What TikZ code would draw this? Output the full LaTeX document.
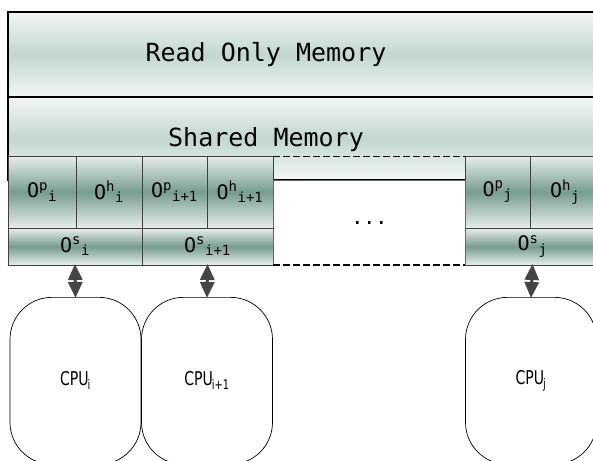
\documentclass[tikz,border=0pt]{standalone}
\usepackage{fontspec}
\setmonofont{DejaVu Sans Mono}
\newfontfamily\cpufont[FakeStretch=0.74]{DejaVu Sans}
\usetikzlibrary{arrows.meta}

\definecolor{bandlight}{HTML}{F2F6F4}
\definecolor{bandmid}{HTML}{C2D7D0}
\definecolor{celllight}{HTML}{E6EEEB}
\definecolor{celldark}{HTML}{789C91}
\definecolor{arrowgray}{HTML}{454545}

\tikzset{
    band/.style={draw=black, line width=1.2pt, anchor=north west, inner sep=0pt, outer sep=0pt,
        top color=bandlight, bottom color=bandlight, middle color=bandmid},
    bandtext/.style={inner sep=0pt, font=\ttfamily\fontsize{25}{25}\selectfont},
    cell/.style={draw=black!75, line width=0.9pt, anchor=north west, inner sep=0pt, outer sep=0pt,
        top color=celllight, bottom color=celllight, middle color=celldark,
        minimum height=72pt, font=\ttfamily\fontsize{20}{20}\selectfont},
    lowcell/.style={cell, minimum height=37pt},
    cpu/.style={draw, line width=0.7pt, rounded corners=42pt, anchor=north,
        minimum width=131pt, minimum height=167pt, inner sep=0pt,
        font=\cpufont\fontsize{19}{19}\selectfont},
    busarrow/.style={arrowgray, line width=3pt,
        {Triangle[width=14pt,length=16pt]}-{Triangle[width=14pt,length=16pt]}, shorten <=-1pt, shorten >=-1pt}
}

\begin{document}
\begin{tikzpicture}[x=1pt,y=-1pt]
    \useasboundingbox (0,0) rectangle (593,460);

    \node[band, minimum width=600pt, minimum height=85pt] (rom) at (8,12) {};
    \node[band, minimum width=600pt, minimum height=83pt] (shm) at (8,97) {};
    \node[bandtext] (romtext) at ([xshift=-42pt]rom.center) {Read Only Memory};
    \node[bandtext] (shmtext) at ([xshift=-42pt,yshift=-1pt]shm.center) {Shared Memory};

    % per-cpu cells
    \node[cell, minimum width=68pt] (opi) at (8,156) {O\textsuperscript{p}\textsubscript{i}};
    \node[cell, minimum width=66pt] (ohi) at (76,156) {O\textsuperscript{h}\textsubscript{i}};
    \node[cell, minimum width=65pt] (opii) at (142,156) {O\textsuperscript{p}\textsubscript{i+1}};
    \node[cell, minimum width=66pt] (ohii) at (207,156) {O\textsuperscript{h}\textsubscript{i+1}};
    \node[cell, minimum width=65pt] (opj) at (465,156) {O\textsuperscript{p}\textsubscript{j}};
    \node[cell, minimum width=70pt] (ohj) at (530,156) {O\textsuperscript{h}\textsubscript{j}};
    \node[lowcell, minimum width=134pt] (osi) at (8,228) {O\textsuperscript{s}\textsubscript{i}};
    \node[lowcell, minimum width=131pt] (osii) at (142,228) {O\textsuperscript{s}\textsubscript{i+1}};
    \node[lowcell, minimum width=135pt] (osj) at (465,228) {O\textsuperscript{s}\textsubscript{j}};

    \node[draw=black!60, fill=white, line width=0.8pt, anchor=north west, inner sep=0pt,
        minimum width=192pt, minimum height=85pt, font=\ttfamily\fontsize{20}{20}\selectfont] (gap) at (273,180) {...};
    \draw[dash pattern=on 7pt off 3pt, line width=0.9pt] (ohii.north east) -- (opj.north west);
    \draw[white, line width=1.2pt] (osii.south east) -- (osj.south west);
    \draw[dash pattern=on 7pt off 3pt, line width=1.2pt] (osii.south east) -- (osj.south west);

    \node[cpu] (cpui) at (75.5,297) {CPU\textsubscript{\kern-1pt i}};
    \node[cpu] (cpuii) at (207,297) {CPU\textsubscript{\kern-1pt i+1}};
    \node[cpu] (cpuj) at (531,297) {CPU\textsubscript{\kern-1pt j}};

    \draw[busarrow] (osi.south) -- (cpui.north);
    \draw[busarrow] (osii.south) -- (cpuii.north);
    \draw[busarrow] (osj.south) -- (cpuj.north);
\end{tikzpicture}
\end{document}
